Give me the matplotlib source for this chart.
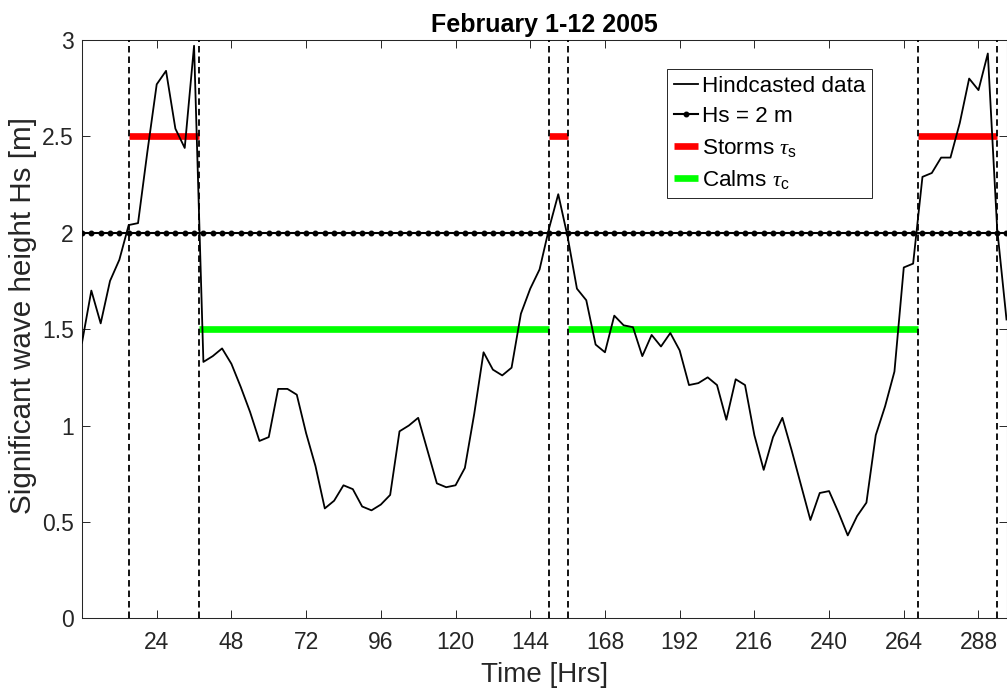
import numpy as np
import matplotlib
matplotlib.use("Agg")
import matplotlib.pyplot as plt
from matplotlib.ticker import FuncFormatter

plt.rcParams['font.family'] = ['Liberation Sans', 'DejaVu Sans']
plt.rcParams['mathtext.fontset'] = 'custom'
plt.rcParams['mathtext.rm'] = 'Liberation Sans'
plt.rcParams['mathtext.it'] = 'Liberation Serif:italic'
plt.rcParams['mathtext.bf'] = 'Liberation Sans:bold'

# ---- data ----
time_hrs = np.arange(0, 298, 3)
hs = [1.43, 1.70, 1.53, 1.75, 1.86, 2.04, 2.05, 2.42, 2.77, 2.84,
      2.54, 2.44, 2.97, 1.33, 1.36, 1.40, 1.32, 1.20, 1.07, 0.92,
      0.94, 1.19, 1.19, 1.16, 0.96, 0.79, 0.57, 0.61, 0.69, 0.67,
      0.58, 0.56, 0.59, 0.64, 0.97, 1.00, 1.04, 0.87, 0.70, 0.68,
      0.69, 0.78, 1.06, 1.38, 1.29, 1.26, 1.30, 1.58, 1.71, 1.81,
      2.02, 2.20, 1.98, 1.71, 1.65, 1.42, 1.38, 1.57, 1.52, 1.51,
      1.36, 1.47, 1.41, 1.48, 1.39, 1.21, 1.22, 1.25, 1.21, 1.03,
      1.24, 1.21, 0.95, 0.77, 0.94, 1.04, 0.87, 0.69, 0.51, 0.65,
      0.66, 0.55, 0.43, 0.53, 0.60, 0.95, 1.10, 1.28, 1.82, 1.84,
      2.29, 2.31, 2.39, 2.39, 2.57, 2.80, 2.74, 2.93, 2.02, 1.55]
threshold = 2.0
storm_start = [15.0, 150.0, 268.5]
storm_end = [37.6, 156.0, 294.0]
storm_level = 2.5
calm_start = [37.6, 156.0]
calm_end = [150.0, 268.5]
calm_level = 1.5
xticks = [24, 48, 72, 96, 120, 144, 168, 192, 216, 240, 264, 288]
yticks = [0, 0.5, 1, 1.5, 2, 2.5, 3]

# ---- figure ----
W, H = 1007, 693
fig = plt.figure(figsize=(W / 100, H / 100), dpi=100)
ax = fig.add_axes([82 / W, (H - 618.3) / H, (1006.5 - 82) / W, (618.3 - 40) / H])

dark = '#262626'

ax.plot(time_hrs, hs, color='k', lw=1.3, zorder=5, label='Hindcasted data')
ax.plot(time_hrs, [threshold] * len(time_hrs), color='k', lw=1.5, marker='.',
        markersize=6.5, zorder=4, label='Hs = 2 m')
for i, (s, e) in enumerate(zip(storm_start, storm_end)):
    ax.plot([s, e], [storm_level, storm_level], color=(1, 0, 0), lw=4.8,
            solid_capstyle='butt', zorder=3,
            label=r'Storms $\tau_{\mathrm{s}}$' if i == 0 else None)
for i, (s, e) in enumerate(zip(calm_start, calm_end)):
    ax.plot([s, e], [calm_level, calm_level], color=(0, 1, 0), lw=4.8,
            solid_capstyle='butt', zorder=3,
            label=r'Calms $\tau_{\mathrm{c}}$' if i == 0 else None)
for x in sorted(set(storm_start + storm_end)):
    ax.axvline(x, color='k', lw=1.3, linestyle=(0, (3.6, 2.2)), zorder=6)

ax.set_xlim(0, 297)
ax.set_ylim(0, 3)
ax.set_xticks(xticks)
ax.set_yticks(yticks)
ax.yaxis.set_major_formatter(FuncFormatter(lambda v, p: f'{v:g}'))
ax.tick_params(direction='in', length=5.8, width=0.7, colors=dark,
               labelsize=16.5, top=True, right=True)
ax.tick_params(axis='x', pad=9)
ax.tick_params(axis='y', pad=6)
for sp in ax.spines.values():
    sp.set_color(dark)
    sp.set_linewidth(0.75)

ax.set_xlabel('Time [Hrs]', fontsize=20, color=dark, labelpad=6)
ax.set_ylabel('Significant wave height Hs [m]', fontsize=21.3, color=dark)
ax.yaxis.set_label_coords(-0.049, 0.523)
ax.set_title('February 1-12 2005', fontsize=18, fontweight='bold', color='k', pad=6)

leg = ax.legend(loc='upper left', bbox_to_anchor=(0.633, 0.95), borderaxespad=0,
                fontsize=16.2, handlelength=1.05, handletextpad=0.2,
                labelspacing=0.42, borderpad=0.3, fancybox=False,
                framealpha=1, edgecolor=dark)
leg.get_frame().set_linewidth(0.7)
leg.set_zorder(10)

fig.savefig('out.png', dpi=100)
